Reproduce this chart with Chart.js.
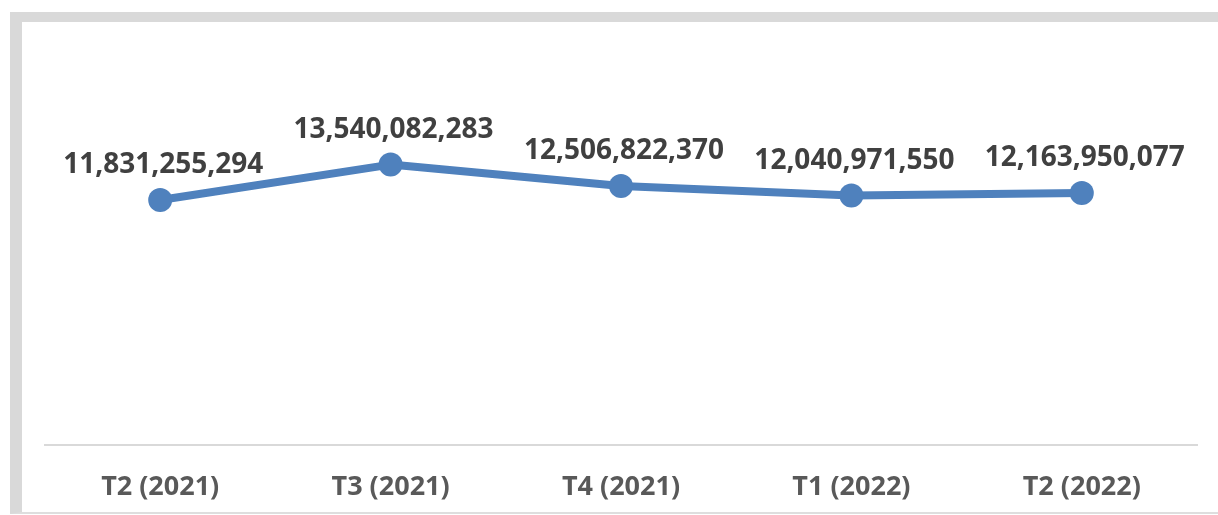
<!DOCTYPE html>
<html>
<head>
<meta charset="utf-8">
<script src="https://cdn.jsdelivr.net/npm/chart.js@4"></script>
<style>
  html, body { margin: 0; padding: 0; background: #ffffff; }
  #wrap { position: relative; width: 1218px; height: 515px; overflow: hidden; }
  #frame {
    position: absolute; left: 10px; top: 12px; width: 1220px; height: 502px;
    border-top: 10px solid #d9d9d9; border-left: 12px solid #d9d9d9;
    border-bottom: 2px solid #dedede; box-sizing: border-box;
  }
  canvas { position: absolute; left: 0; top: 0; }
</style>
</head>
<body>
<div id="wrap">
  <div id="frame"></div>
  <canvas id="lineChart" width="1218" height="544"></canvas>
</div>
<script>
// quarters and values
var quarters = ['T2 (2021)', 'T3 (2021)', 'T4 (2021)', 'T1 (2022)', 'T2 (2022)'];
var amounts = [11831255294, 13540082283, 12506822370, 12040971550, 12163950077];

// draws the number above each point
var valueLabels = {
  id: 'valueLabels',
  afterDatasetsDraw: function(chart) {
    var ctx = chart.ctx;
    var meta = chart.getDatasetMeta(0);
    ctx.save();
    ctx.font = 'bold 28px "Open Sans"';
    ctx.fillStyle = '#404040';
    ctx.textAlign = 'center';
    ctx.textBaseline = 'alphabetic';
    meta.data.forEach(function(pt, i) {
      var txt = amounts[i].toLocaleString('en-US');
      ctx.fillText(txt, pt.x + 3, pt.y - 27);
    });
    ctx.restore();
  }
};

var ctx = document.getElementById('lineChart').getContext('2d');
var myChart = new Chart(ctx, {
  type: 'line',
  data: {
    labels: quarters,
    datasets: [{
      data: amounts,
      borderColor: '#4f81bd',
      backgroundColor: '#4f81bd',
      borderWidth: 8,
      pointRadius: 12,
      pointHoverRadius: 12,
      pointBorderWidth: 0,
      borderCapStyle: 'round',
      borderJoinStyle: 'round',
      tension: 0
    }]
  },
  options: {
    responsive: false,
    animation: false,
    layout: { padding: { left: 45, right: 21, top: 31, bottom: 13 } },
    plugins: { legend: { display: false }, tooltip: { enabled: false } },
    scales: {
      x: {
        offset: true,
        grid: { display: false, drawTicks: false },
        border: { display: true, color: '#d9d9d9', width: 2 },
        ticks: {
          padding: 27,
          color: '#595959',
          font: { family: 'Open Sans', size: 27, weight: 'bold' }
        }
      },
      y: {
        display: false,
        min: 0,
        max: 20000000000
      }
    }
  },
  plugins: [valueLabels]
});
</script>
</body>
</html>
